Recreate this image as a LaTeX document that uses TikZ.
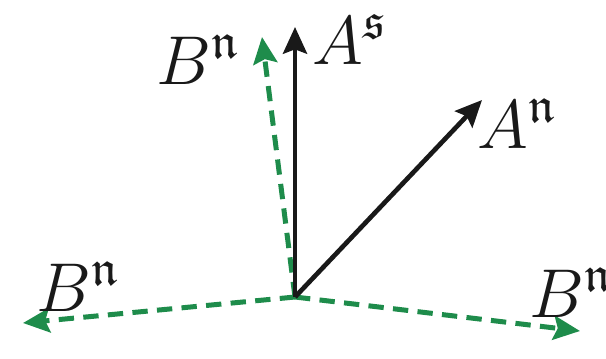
\documentclass[tikz,border=0pt]{standalone}
\usepackage{amssymb}
\usetikzlibrary{arrows.meta}
\definecolor{vgreen}{RGB}{30,140,75}
\definecolor{vblack}{RGB}{25,25,25}
\tikzset{
  vec/.style={line width=1.4pt, draw=vblack, -{Stealth[length=8pt,width=7.2pt,inset=1.3pt]}},
  gvec/.style={line width=1.5pt, draw=vgreen, dash pattern=on 4.6pt off 2.8pt, -{Stealth[length=8pt,width=7.2pt,inset=1.3pt]}},
  lab/.style={inner sep=0pt, anchor=base west, font=\fontsize{21.5}{25}\selectfont, text=vblack}
}
\begin{document}
\begin{tikzpicture}[x=0.3pt,y=-0.3pt]
\useasboundingbox (0,0) rectangle (606,358);
\coordinate (o) at (295,297);
\coordinate (as) at (295,27);
\coordinate (an) at (482,100);
\coordinate (bu) at (262,37);
\coordinate (bl) at (23,323);
\coordinate (br) at (580,331);
\draw[gvec] (o) -- (bu);
\draw[gvec] (o) -- (bl);
\draw[gvec] (o) -- (br);
\draw[vec] (o) -- (as);
\draw[vec] (o) -- (an);
\node[lab] (lbu) at (156,84) {$B^{\mathfrak{n}}$};
\node[lab] (las) at (312,64) {$A^{\mathfrak{s}}$};
\node[lab] (lan) at (477,148) {$A^{\mathfrak{n}}$};
\node[lab] (lbl) at (36,311) {$B^{\mathfrak{n}}$};
\node[lab] (lbr) at (529,317) {$B^{\mathfrak{n}}$};
\end{tikzpicture}
\end{document}
